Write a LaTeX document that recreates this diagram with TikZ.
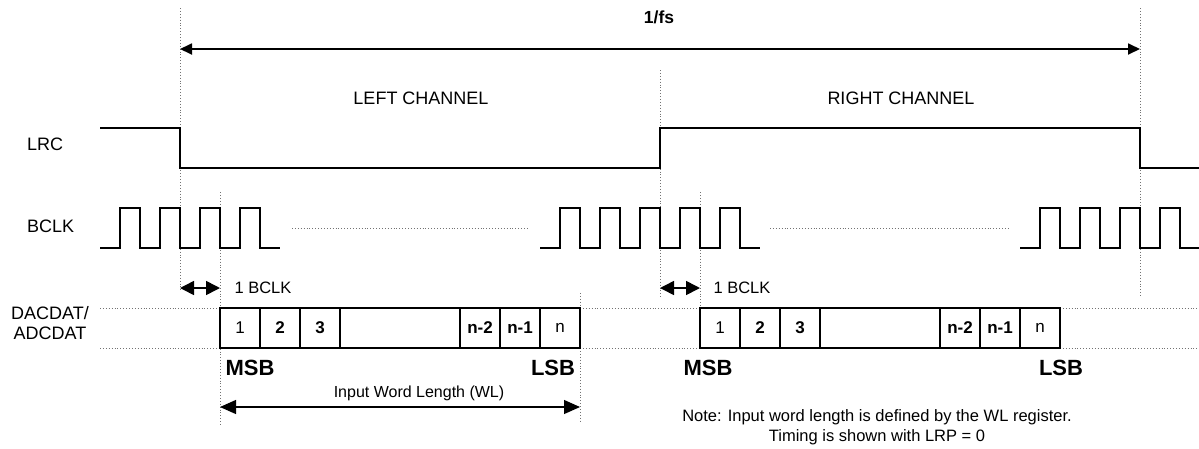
\documentclass[tikz,border=0pt]{standalone}
\usepackage{fontspec}
\setmainfont{Liberation Sans}
\usetikzlibrary{arrows.meta}
\begin{document}
\begin{tikzpicture}[x=1pt,y=-1pt,
  sig/.style={line width=2pt, line join=miter},
  guide/.style={draw=black!55, line width=0.7pt, dash pattern=on 0.9pt off 2pt},
  lbl/.style={font=\fontsize{18}{20}\selectfont, inner sep=0pt},
  small/.style={font=\fontsize{16.5}{19}\selectfont, inner sep=0pt},
  big/.style={font=\fontsize{22}{24}\selectfont\bfseries, inner sep=0pt},
  cell/.style={draw, line width=1.8pt, minimum height=40pt, minimum width=40pt, inner sep=0pt, outer sep=0pt, font=\fontsize{17}{19}\selectfont\bfseries},
  widecell/.style={cell, minimum width=120pt},
  dimarrow/.style={line width=1.8pt, {Triangle[length=12pt,width=11pt]}-{Triangle[length=12pt,width=11pt]}},
  bclkarrow/.style={line width=1.6pt, {Triangle[length=14pt,width=14pt]}-{Triangle[length=14pt,width=14pt]}},
  wlarrow/.style={line width=1.2pt, {Triangle[length=16pt,width=14pt]}-{Triangle[length=16pt,width=14pt]}}
]
\useasboundingbox (0,0) rectangle (1199,448);

% guides
\draw[guide] (180,8) -- (180,292);
\draw[guide] (660,70) -- (660,297);
\draw[guide] (1140,8) -- (1140,297);
\draw[guide] (220,192) -- (220,425);
\draw[guide] (700,192) -- (700,308);
\draw[guide] (580,293) -- (580,423);
\draw[guide] (292,228) -- (528,228);
\draw[guide] (770,228) -- (1010,228);
\foreach \yy in {308,348} {
  \draw[guide] (100,\yy) -- (220,\yy);
  \draw[guide] (580,\yy) -- (700,\yy);
  \draw[guide] (1060,\yy) -- (1199,\yy);
}

% labels
\node[lbl, font=\fontsize{17.5}{20}\selectfont\bfseries] (fs) at (659,17) {1/fs};
\node[lbl] (left) at (421,98) {LEFT CHANNEL};
\node[lbl] (right) at (901,98) {RIGHT CHANNEL};
\node[lbl, anchor=west] (lrc) at (27,144) {LRC};
\node[lbl, anchor=west] (bclk) at (27,226) {BCLK};
\node[lbl, align=center] (dat) at (50,323) {DACDAT/\\ADCDAT};

% 1/fs arrow
\coordinate (fsL) at (180,49);
\coordinate (fsR) at (1140,49);
\draw[dimarrow] (fsL) -- (fsR);

% LRC
\draw[sig] (100,128) -- (180,128) -- (180,168) -- (660,168) -- (660,128) -- (1140,128) -- (1140,168) -- (1199,168);

% BCLK
\draw[sig] (100,248)
  \foreach \s in {120,160,200,240} { -- (\s,248) -- (\s,208) -- (\s+20,208) -- (\s+20,248) } -- (280,248);
\draw[sig] (540,248)
  \foreach \s in {560,600,640,680,720} { -- (\s,248) -- (\s,208) -- (\s+20,208) -- (\s+20,248) } -- (760,248);
\draw[sig] (1020,248)
  \foreach \s in {1040,1080,1120,1160} { -- (\s,248) -- (\s,208) -- (\s+20,208) -- (\s+20,248) } -- (1199,248);

% 1 BCLK arrows
\coordinate (b1L) at (180,288);
\coordinate (b1R) at (220,288);
\draw[bclkarrow] (b1L) -- (b1R);
\node[small] (b1t) at (263,288) {1 BCLK};
\coordinate (b2L) at (660,288);
\coordinate (b2R) at (700,288);
\draw[bclkarrow] (b2L) -- (b2R);
\node[small] (b2t) at (742,288) {1 BCLK};

% data cells left
\node[cell, font=\fontsize{17}{19}\selectfont] (l1) at (240,328) {1};
\node[cell] (l2) at (280,328) {2};
\node[cell] (l3) at (320,328) {3};
\node[widecell] (l4) at (400,328) {};
\node[cell] (l5) at (480,328) {n-2};
\node[cell] (l6) at (520,328) {n-1};
\node[cell, font=\fontsize{17}{19}\selectfont] (l7) at (560,328) {n};
% data cells right
\node[cell, font=\fontsize{17}{19}\selectfont] (r1) at (720,328) {1};
\node[cell] (r2) at (760,328) {2};
\node[cell] (r3) at (800,328) {3};
\node[widecell] (r4) at (880,328) {};
\node[cell] (r5) at (960,328) {n-2};
\node[cell] (r6) at (1000,328) {n-1};
\node[cell, font=\fontsize{17}{19}\selectfont] (r7) at (1040,328) {n};

\node[big] (msb1) at (250,368) {MSB};
\node[big] (lsb1) at (553,368) {LSB};
\node[big] (msb2) at (708,368) {MSB};
\node[big] (lsb2) at (1061,368) {LSB};

% WL arrow
\node[small, font=\fontsize{16}{19}\selectfont] (wl) at (419,393) {Input Word Length (WL)};
\coordinate (wlL) at (220,407);
\coordinate (wlR) at (580,407);
\draw[wlarrow] (wlL) -- (wlR);

% note
\node[small, align=center, font=\fontsize{16.5}{19.5}\selectfont] (note) at (877,427) {Note: Input word length is defined by the WL register.\\Timing is shown with LRP = 0};
\end{tikzpicture}
\end{document}
